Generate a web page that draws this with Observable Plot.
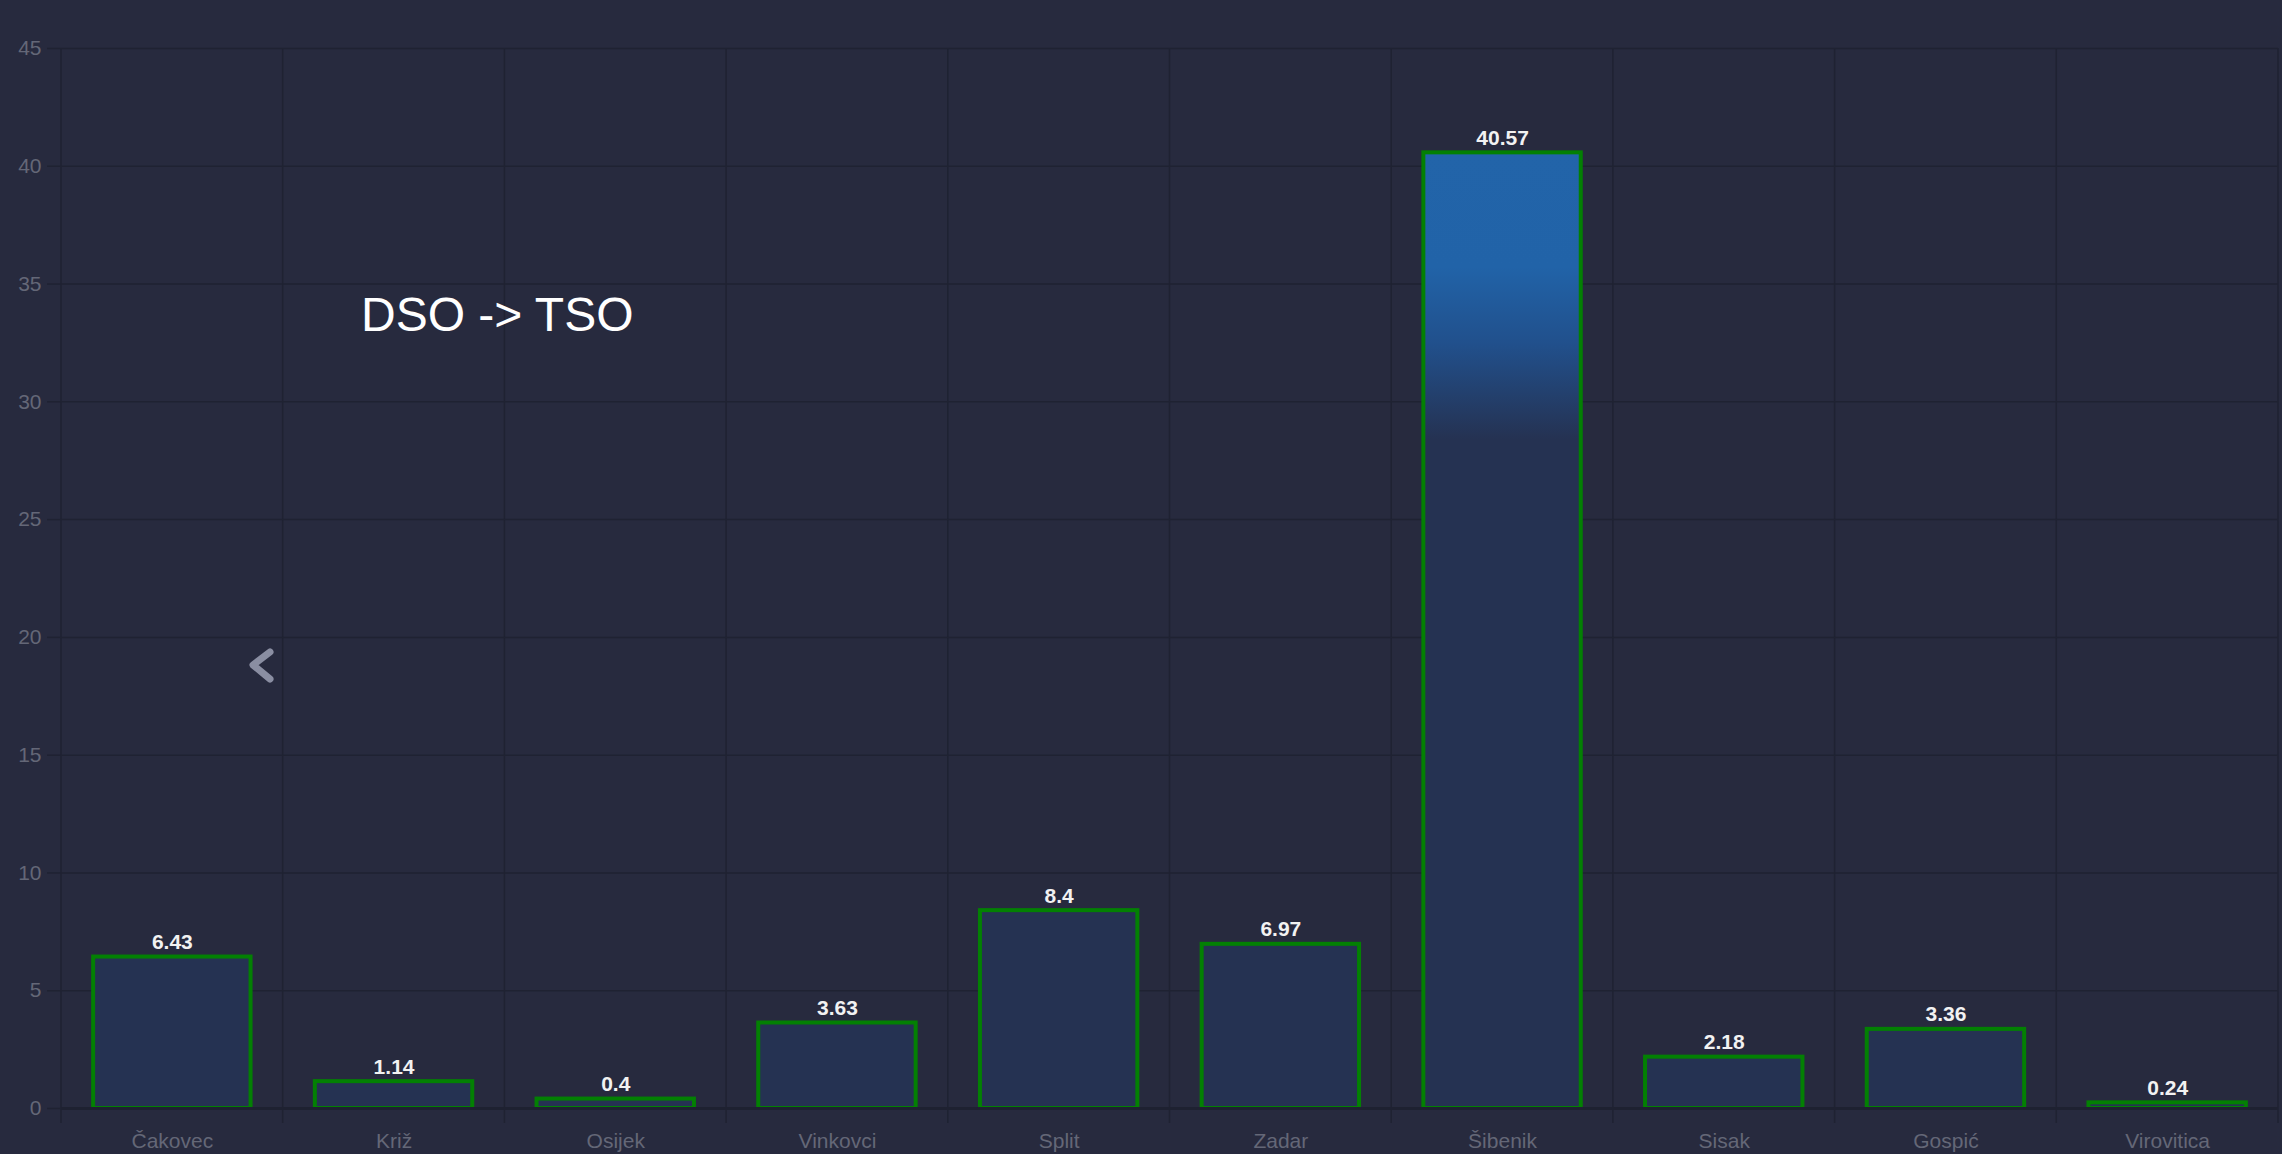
<!DOCTYPE html>
<html>
<head>
<meta charset="utf-8">
<script src="https://cdn.jsdelivr.net/npm/d3@7"></script>
<script src="https://cdn.jsdelivr.net/npm/@observablehq/plot@0.6"></script>
<style>
  html, body { margin: 0; padding: 0; background: #272a3e; overflow: hidden; }
  #wrap { position: relative; width: 2282px; height: 1154px; }
  #title { position: absolute; left: 361px; top: 291px; font-family: "Liberation Sans", Arial, sans-serif;
           font-size: 48px; color: #ffffff; white-space: nowrap; line-height: 1; }
  #nav { position: absolute; left: 244px; top: 644px; }
</style>
</head>
<body>
<div id="wrap">
  <div id="chart"></div>
  <div id="title">DSO -&gt; TSO</div>
  <svg id="nav" width="36" height="44" viewBox="0 0 36 44">
    <polyline points="26,8 9,21 26,35" fill="none" stroke="#8a8ea2" stroke-width="7" stroke-linecap="round" stroke-linejoin="round"/>
  </svg>
</div>
<script>
const cities = ["Čakovec", "Križ", "Osijek", "Vinkovci", "Split", "Zadar", "Šibenik", "Sisak", "Gospić", "Virovitica"];
const values = [6.43, 1.14, 0.4, 3.63, 8.4, 6.97, 40.57, 2.18, 3.36, 0.24];
const yTicks = [0, 5, 10, 15, 20, 25, 30, 35, 40, 45];
const highlighted = ["Šibenik"];

const data = cities.map((c, i) => ({city: c, value: values[i]}));

const BG = "#272a3e";
const GRID = "#1f2232";
const BAR = "#253252";
const GREEN = "#038003";
const TICKTEXT = "#646777";

function bandBoundaries(index, scales, values, dimensions) {
  const x = scales.x, y = scales.y;
  const bw = x.bandwidth ? x.bandwidth() : 0;
  const step = x(cities[1]) - x(cities[0]);
  const pad = (step - bw) / 2;
  const xs = cities.map(c => x(c) - pad);
  xs.push(x(cities[cities.length - 1]) + bw + pad);
  const g = d3.create("svg:g");
  const y0 = y(yTicks[yTicks.length - 1]);
  const y1 = y(0) + 15;
  for (const xx of xs) {
    g.append("line")
      .attr("x1", xx).attr("x2", xx)
      .attr("y1", y0).attr("y2", y1)
      .attr("stroke", GRID).attr("stroke-width", 1.5);
  }
  return g.node();
}

const chart = Plot.plot({
  width: 2282,
  height: 1154,
  marginTop: 48,
  marginBottom: 46,
  marginLeft: 61,
  marginRight: 4,
  style: {background: BG, fontFamily: "'Liberation Sans', Arial, sans-serif", overflow: "visible"},
  x: {domain: cities, paddingInner: 0.29, paddingOuter: 0.145, round: false, label: null},
  y: {domain: [0, 45], label: null},
  marks: [
    bandBoundaries,
    Plot.gridY(yTicks, {stroke: GRID, strokeOpacity: 1, strokeWidth: 1.5}),
    Plot.axisY(yTicks, {tickSize: 14, tickPadding: 6, stroke: GRID, strokeWidth: 1.5, fill: TICKTEXT, fontSize: 21, label: null}),
    Plot.axisX({tickSize: 0, tickPadding: 25, fill: TICKTEXT, fontSize: 21, label: null}),
    Plot.barY(data.filter(d => !highlighted.includes(d.city)), {x: "city", y: "value", fill: BAR, stroke: GREEN, strokeWidth: 4}),
    Plot.barY(data.filter(d => highlighted.includes(d.city)), {x: "city", y: "value", fill: "url(#hlGrad)", stroke: GREEN, strokeWidth: 4}),
    Plot.ruleY([0], {stroke: "#1e2131", strokeWidth: 3}),
    Plot.text(data, {x: "city", y: "value", text: d => String(d.value), dy: -8, lineAnchor: "bottom",
                     fill: "#f2f2f2", fontWeight: "bold", fontSize: 21})
  ]
});

const defs = d3.select(chart).insert("defs", ":first-child");
const grad = defs.append("linearGradient").attr("id", "hlGrad")
  .attr("x1", 0).attr("y1", 0).attr("x2", 0).attr("y2", 1);
[[0, "#2264a9"], [0.12, "#2163a8"], [0.2, "#21508c"], [0.3, "#253252"], [1, "#253252"]]
  .forEach(([o, c]) => grad.append("stop").attr("offset", o).attr("stop-color", c));

document.getElementById("chart").appendChild(chart);
</script>
</body>
</html>
